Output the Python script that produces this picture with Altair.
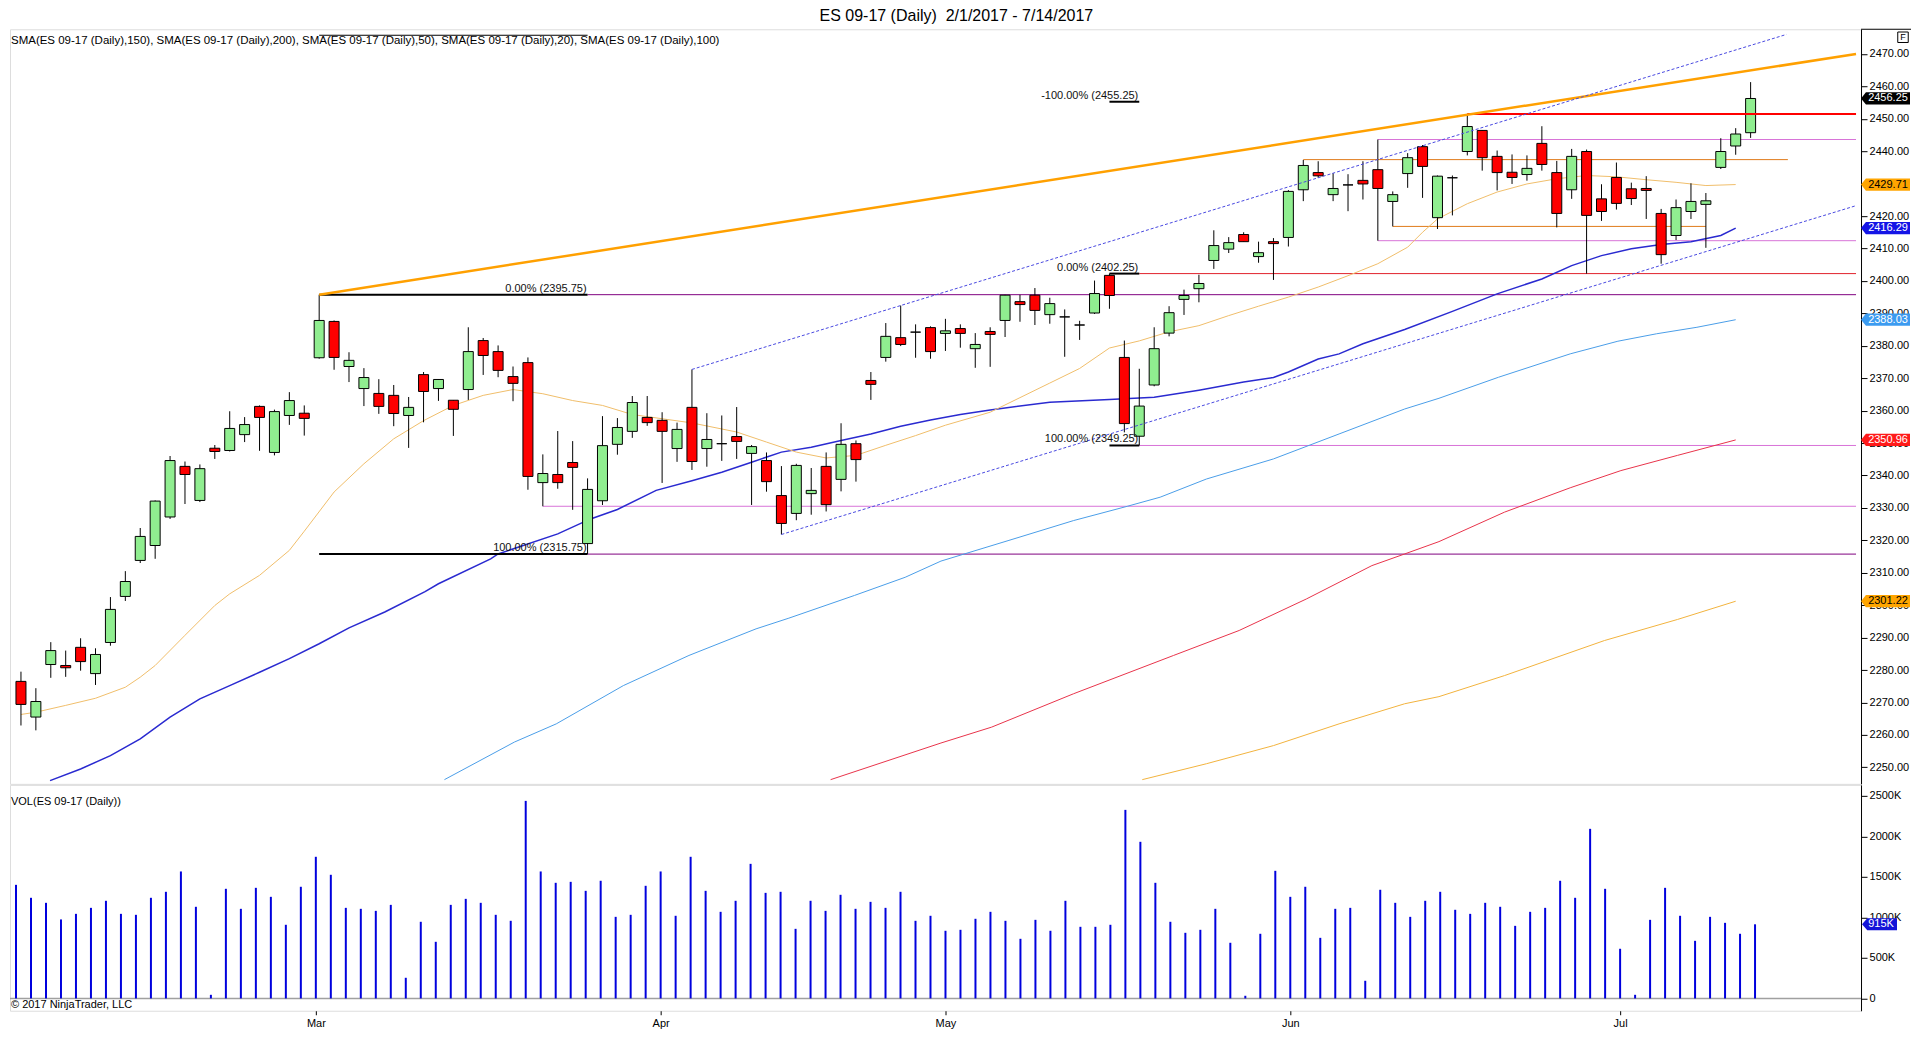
import altair as alt
import pandas as pd

FONT = "Liberation Sans"

# ---------------- data ----------------
opens = [
    2276.5, 2265.5, 2281.7, 2281.4, 2287.0, 2278.9, 2288.5, 2302.7, 2313.8, 2318.4,
    2327.2, 2342.8, 2332.3, 2348.4, 2347.7, 2352.6, 2361.3, 2347.1, 2358.5, 2359.2,
    2376.3, 2387.5, 2373.6, 2366.8, 2365.3, 2364.7, 2358.5, 2371.1, 2366.8, 2363.2,
    2366.5, 2381.6, 2378.2, 2370.5, 2374.8, 2337.8, 2340.3, 2344.0, 2319.0, 2332.2,
    2349.6, 2353.6, 2357.9, 2357.0, 2348.3, 2361.0, 2348.3, 2349.8, 2352.0, 2346.8,
    2344.6, 2333.8, 2328.3, 2334.4, 2342.8, 2338.8, 2349.8, 2369.3, 2376.4, 2382.5,
    2384.2, 2385.6, 2383.8, 2385.3, 2379.1, 2384.4, 2387.8, 2393.6, 2395.6, 2389.6,
    2388.9, 2386.4, 2390.1, 2401.7, 2376.4, 2352.1, 2367.9, 2383.9, 2394.3, 2397.6,
    2406.3, 2409.8, 2414.3, 2407.5, 2412.1, 2413.4, 2428.1, 2433.4, 2426.6, 2429.6,
    2431.0, 2434.3, 2424.5, 2433.1, 2441.4, 2419.5, 2431.8, 2439.9, 2446.4, 2438.4,
    2433.5, 2432.8, 2442.4, 2433.4, 2428.1, 2439.9, 2425.3, 2431.9, 2428.4, 2428.5,
    2420.8, 2414.0, 2421.4, 2423.6, 2435.0, 2441.6, 2445.7,
]
highs = [
    2279.5, 2274.4, 2288.6, 2286.0, 2289.8, 2286.7, 2302.5, 2310.5, 2323.8, 2332.3,
    2346.0, 2344.3, 2343.4, 2349.4, 2359.8, 2358.0, 2361.6, 2360.3, 2365.7, 2361.6,
    2395.75, 2387.8, 2378.0, 2373.1, 2369.7, 2367.9, 2364.2, 2371.9, 2369.7, 2363.2,
    2385.7, 2382.4, 2380.1, 2373.6, 2376.4, 2346.5, 2353.7, 2350.6, 2339.1, 2358.3,
    2357.7, 2364.5, 2364.5, 2359.5, 2356.3, 2372.7, 2359.2, 2358.5, 2361.1, 2349.4,
    2347.1, 2342.9, 2343.6, 2342.3, 2347.1, 2356.1, 2350.8, 2371.9, 2387.0, 2392.4,
    2386.6, 2386.0, 2388.3, 2386.6, 2383.9, 2385.7, 2395.7, 2395.7, 2397.8, 2394.8,
    2391.2, 2387.7, 2400.1, 2402.25, 2381.6, 2372.9, 2385.7, 2392.2, 2397.3, 2401.9,
    2415.6, 2413.5, 2415.0, 2412.1, 2413.2, 2428.0, 2437.3, 2436.9, 2433.2, 2432.9,
    2436.9, 2443.6, 2427.6, 2439.4, 2441.9, 2432.5, 2432.5, 2451.5, 2446.5, 2440.2,
    2439.0, 2438.7, 2447.7, 2437.0, 2440.7, 2440.5, 2429.8, 2436.5, 2430.3, 2432.3,
    2422.2, 2425.1, 2430.1, 2427.1, 2444.0, 2447.1, 2461.3,
]
lows = [
    2262.9, 2261.4, 2277.6, 2277.9, 2279.8, 2275.4, 2287.5, 2301.3, 2313.0, 2314.3,
    2326.6, 2331.2, 2331.8, 2345.1, 2347.4, 2350.3, 2347.6, 2346.2, 2355.6, 2352.3,
    2376.0, 2372.6, 2368.8, 2361.4, 2359.0, 2355.2, 2348.5, 2356.4, 2363.0, 2352.2,
    2363.3, 2371.0, 2370.3, 2362.9, 2335.6, 2330.5, 2335.9, 2329.4, 2315.75, 2330.9,
    2346.4, 2351.6, 2355.3, 2337.7, 2344.2, 2341.7, 2342.7, 2344.5, 2345.1, 2330.9,
    2335.0, 2321.8, 2326.2, 2327.9, 2328.9, 2335.1, 2338.1, 2363.3, 2375.1, 2379.9,
    2376.3, 2376.0, 2378.4, 2379.4, 2373.2, 2373.5, 2382.7, 2387.4, 2386.4, 2386.8,
    2376.6, 2381.8, 2389.8, 2391.4, 2353.3, 2349.25, 2367.5, 2382.9, 2389.5, 2393.4,
    2403.7, 2408.6, 2412.1, 2405.6, 2400.3, 2410.6, 2424.6, 2431.8, 2424.6, 2421.5,
    2425.1, 2412.4, 2416.8, 2428.7, 2425.6, 2416.0, 2420.2, 2438.7, 2434.0, 2427.9,
    2429.9, 2430.9, 2434.0, 2416.5, 2425.3, 2402.25, 2418.5, 2422.0, 2423.4, 2419.1,
    2405.3, 2412.6, 2419.1, 2410.2, 2434.5, 2438.9, 2444.1,
]
closes = [
    2269.4, 2270.3, 2286.0, 2280.7, 2282.6, 2284.8, 2298.7, 2307.3, 2321.2, 2332.1,
    2344.6, 2340.3, 2342.1, 2347.4, 2354.5, 2355.7, 2357.9, 2359.7, 2363.1, 2357.6,
    2387.8, 2376.4, 2375.5, 2370.2, 2361.3, 2359.1, 2361.0, 2365.9, 2369.6, 2360.4,
    2378.2, 2377.0, 2372.4, 2368.4, 2339.7, 2340.6, 2337.8, 2342.5, 2335.7, 2349.2,
    2354.8, 2362.5, 2356.3, 2353.6, 2354.2, 2344.3, 2351.1, 2349.8, 2350.5, 2348.9,
    2338.1, 2325.2, 2343.1, 2335.4, 2331.0, 2349.6, 2344.9, 2368.1, 2382.9, 2380.4,
    2384.2, 2378.2, 2384.6, 2383.8, 2380.4, 2383.5, 2395.6, 2392.7, 2390.9, 2393.0,
    2388.9, 2386.4, 2396.1, 2395.5, 2356.0, 2361.4, 2379.1, 2390.2, 2395.5, 2399.2,
    2410.9, 2411.8, 2412.1, 2408.7, 2411.5, 2427.6, 2435.6, 2432.4, 2428.5, 2429.6,
    2429.9, 2428.5, 2426.6, 2438.0, 2435.3, 2432.3, 2431.8, 2447.6, 2438.0, 2433.4,
    2431.9, 2434.7, 2435.9, 2420.8, 2438.4, 2420.2, 2421.4, 2423.9, 2425.4, 2427.9,
    2408.1, 2422.6, 2424.5, 2424.7, 2439.9, 2445.3, 2456.25,
]
volumes_k = [
    1402, 1242, 1180, 975, 1044, 1118, 1205, 1044, 1032, 1242,
    1316, 1567, 1131, 45, 1353, 1106, 1365, 1254, 909, 1378,
    1748, 1526, 1118, 1106, 1081, 1155, 255, 946, 699, 1155,
    1229, 1180, 1032, 958, 2438, 1567, 1427, 1439, 1328, 1452,
    1007, 1032, 1390, 1567, 1020, 1748, 1328, 1069, 1205, 1661,
    1303, 1316, 859, 1205, 1081, 1279, 1106, 1192, 1118, 1316,
    958, 1020, 835, 847, 983, 1069, 958, 736, 970, 835,
    1205, 884, 884, 909, 2327, 1933, 1427, 946, 810, 847,
    1106, 687, 33, 798, 1575, 1254, 1378, 748, 1106, 1118,
    218, 1341, 1180, 1007, 1205, 1316, 1094, 1044, 1180, 1131,
    896, 1069, 1118, 1452, 1242, 2093, 1353, 613, 45, 970,
    1365, 1020, 711, 1007, 933, 798, 915,
]

month_names = ["Mar", "Apr", "May", "Jun", "Jul"]
month_bars = [20, 43, 62, 85, 107]

# moving averages (bar index, value)
sma20_x = [0, 1, 3, 5, 7, 8, 9, 11, 13, 14, 16, 18, 19, 21, 23, 25, 27, 29, 31, 33, 35, 37, 39, 41,
           43, 45, 48, 50, 52, 54, 56, 58, 60, 62, 65, 67, 69, 71, 73, 75, 77, 79, 81, 83, 85, 87,
           89, 91, 93, 94, 95, 97, 99, 101, 103, 105, 107, 109, 111, 113, 115]
sma20_y = [2266.3, 2267.0, 2269.1, 2271.3, 2274.7, 2277.8, 2281.4, 2290.7, 2299.9, 2303.5, 2309.2,
           2316.9, 2322.8, 2334.9, 2343.6, 2351.3, 2356.9, 2361.6, 2364.7, 2366.5, 2365.2, 2363.1,
           2361.6, 2358.8, 2357.5, 2356.2, 2353.4, 2350.3, 2347.2, 2345.4, 2346.2, 2349.3, 2352.3,
           2355.5, 2359.5, 2364.0, 2368.5, 2373.0, 2379.3, 2381.5, 2384.3, 2386.2, 2389.3, 2392.2,
           2395.0, 2398.1, 2401.6, 2405.3, 2410.4, 2415.0, 2419.1, 2423.8, 2427.4, 2429.9, 2431.5,
           2432.5, 2432.1, 2431.2, 2430.4, 2429.4, 2429.71]
sma50_x = [1.95, 4, 6, 8, 10, 12, 14, 16, 18, 20, 22, 24.4, 27.1, 28, 31.5, 32, 36, 38.2, 40, 42.6,
           45, 47, 49, 51, 53, 55, 57, 59, 61, 63, 65, 69, 73, 76, 79, 82, 84, 85, 87, 88.4, 90,
           92.8, 96, 99, 102, 104, 106, 108, 110, 112, 114, 115]
sma50_y = [2245.9, 2249.5, 2253.6, 2258.8, 2265.5, 2271.1, 2275.2, 2279.3, 2283.5, 2288.1, 2293.0,
           2297.9, 2304.2, 2306.6, 2314.3, 2315.8, 2322.0, 2326.6, 2329.5, 2335.4, 2338.4, 2341.0,
           2344.1, 2347.2, 2348.7, 2350.8, 2352.8, 2355.2, 2357.1, 2358.8, 2360.2, 2362.6, 2363.4,
           2364.1, 2366.3, 2368.8, 2370.2, 2371.9, 2375.9, 2377.5, 2380.6, 2385.0, 2390.6, 2396.0,
           2400.6, 2404.7, 2407.8, 2409.9, 2411.2, 2412.1, 2414.0, 2416.29]
sma100_x = [28.4, 33.1, 35.9, 40.4, 44.8, 49.3, 51.5, 55.9, 59.3, 61.7, 66.2, 70.6, 74.2, 76.4,
            79.5, 84, 88.4, 92.8, 95.1, 99.1, 103.9, 107.1, 109.7, 112.4, 115]
sma100_y = [2246.2, 2257.8, 2263.4, 2275.2, 2284.5, 2292.7, 2296.0, 2303.0, 2308.6, 2313.6, 2319.9,
            2326.1, 2330.5, 2333.3, 2338.9, 2345.1, 2352.8, 2360.5, 2363.8, 2370.3, 2377.5, 2381.4,
            2383.7, 2385.7, 2388.03]
sma150_x = [54.3, 61.7, 65.1, 70.6, 77.3, 81.7, 86.2, 90.6, 92.8, 95.1, 99.5, 103.9, 107.3, 111.1, 115]
sma150_y = [2246.2, 2257.5, 2262.4, 2272.7, 2284.5, 2292.2, 2301.9, 2312.2, 2315.8, 2319.6, 2328.7,
            2336.2, 2341.5, 2346.2, 2350.96]
sma200_x = [75.2, 79.5, 84, 88.4, 92.8, 95.1, 99.5, 106.2, 111.1, 115]
sma200_y = [2246.2, 2251.1, 2256.7, 2263.4, 2269.6, 2271.8, 2278.3, 2289.1, 2295.6, 2301.22]

# drawing objects (anchored at bar index / price)
trend_x = [20, 123.07]
trend_y = [2395.75, 2470.0]
chan_up_x = [45, 118.4]
chan_up_y = [2372.7, 2476.0]
chan_lo_x = [51, 123.07]
chan_lo_y = [2321.8, 2423.2]

fib_thick_x1 = [20, 20, 73, 73, 73]
fib_thick_x2 = [38, 38, 75, 75, 75]
fib_thick_y = [2395.75, 2315.75, 2402.25, 2349.25, 2455.25]
fib_thin_x1 = [20]
fib_thin_x2 = [38]
fib_thin_y = [2475.75]
fib_label_x = [38, 38, 75, 75, 75]
fib_label_y = [2395.75, 2315.75, 2402.25, 2349.25, 2455.25]
fib_label_t = ["0.00% (2395.75)", "100.00% (2315.75)", "0.00% (2402.25)",
               "100.00% (2349.25)", "-100.00% (2455.25)"]

purple_x1 = [38, 38]
purple_x2 = [123.07, 123.07]
purple_y = [2395.75, 2315.75]
pink_x1 = [75, 35, 91, 91]
pink_x2 = [123.07, 123.07, 123.07, 123.07]
pink_y = [2349.25, 2330.5, 2443.6, 2412.4]
redthin_x1 = [75]
redthin_x2 = [123.07]
redthin_y = [2402.25]
redthick_x1 = [97]
redthick_x2 = [123.07]
redthick_y = [2451.5]
orange_x1 = [86, 92]
orange_x2 = [118.5, 113]
orange_y = [2437.4, 2416.8]

flag_vals = [2456.25, 2429.71, 2416.29, 2388.03, 2350.96, 2301.22]
flag_text = ["2456.25", "2429.71", "2416.29", "2388.03", "2350.96", "2301.22"]
flag_fill = ["#000000", "#FFA500", "#1414E6", "#3C9BF0", "#FF1A1A", "#FFA500"]
flag_tc = ["#FFFFFF", "#000000", "#FFFFFF", "#FFFFFF", "#FFFFFF", "#000000"]

price_ticks = list(range(2250, 2471, 10))
vol_ticks = [0, 500, 1000, 1500, 2000, 2500]

HEADER = ("SMA(ES 09-17 (Daily),150), SMA(ES 09-17 (Daily),200), SMA(ES 09-17 (Daily),50), "
          "SMA(ES 09-17 (Daily),20), SMA(ES 09-17 (Daily),100)")
TITLE = "ES 09-17 (Daily)\u00a0 2/1/2017 - 7/14/2017"

# ---------------- chart ----------------
W = 1852
PH = 755
VH = 226

n = len(opens)
bars = pd.DataFrame({"x": list(range(n)), "o": opens, "h": highs, "l": lows, "c": closes,
                     "v": volumes_k})
bars["dir"] = ["up" if c > o else ("down" if c < o else "flat") for o, c in zip(opens, closes)]

xs = alt.Scale(domain=[-0.4, 123.07], nice=False, zero=False)
ys = alt.Scale(domain=[2244.9, 2477.6], nice=False, zero=False)
vs = alt.Scale(domain=[-151.7, 2635.7], nice=False, zero=False)

price_axis = alt.Axis(orient="right", values=price_ticks, format=".2f", tickSize=6, labelPadding=2,
                      labelFontSize=11, labelFont=FONT, labelColor="black", tickColor="black",
                      domainColor="black", grid=False, title=None, labelOverlap=False,
                      labelFlush=False, labelBound=False)
vol_axis = alt.Axis(orient="right", values=vol_ticks,
                    labelExpr="datum.value == 0 ? '0' : datum.value + 'K'", tickSize=6,
                    labelPadding=2, labelFontSize=11, labelFont=FONT, labelColor="black",
                    tickColor="black", domainColor="black", grid=False, title=None,
                    labelOverlap=False, labelFlush=False, labelBound=False)
mexpr = "[" + ",".join("'%s'" % m for m in month_names) + "][indexof([" + \
        ",".join(str(b) for b in month_bars) + "], datum.value)]"
month_axis = alt.Axis(values=month_bars, labelExpr=mexpr, tickSize=4, labelPadding=3,
                      labelFontSize=11, labelFont=FONT, labelColor="black", tickColor="black",
                      domain=False, grid=False, title=None, labelFlush=False)


def PX(f):
    return alt.X(f, type="quantitative", scale=xs, axis=None, title=None)


def PY(f):
    return alt.Y(f, type="quantitative", scale=ys, axis=price_axis, title=None)


def VX(f):
    return alt.X(f, type="quantitative", scale=xs, axis=month_axis, title=None)


def VY(f):
    return alt.Y(f, type="quantitative", scale=vs, axis=vol_axis, title=None)


def hseg(x1, x2, y, color, width, dash=None):
    df = pd.DataFrame({"x1": x1, "x2": x2, "y": y})
    kw = dict(color=color, strokeWidth=width)
    if dash:
        kw["strokeDash"] = dash
    return alt.Chart(df).mark_rule(**kw).encode(x=PX("x1"), x2=alt.X2("x2"), y=PY("y"))


def pline(xv, yv, color, width, dash=None):
    df = pd.DataFrame({"x": xv, "y": yv})
    kw = dict(color=color, strokeWidth=width, clip=True)
    if dash:
        kw["strokeDash"] = dash
    return alt.Chart(df).mark_line(**kw).encode(x=PX("x"), y=PY("y"))


layers = [
    hseg(purple_x1, purple_x2, purple_y, "#800080", 1),
    hseg(pink_x1, pink_x2, pink_y, "#D873D8", 1),
    hseg(redthin_x1, redthin_x2, redthin_y, "#E0202A", 1),
    hseg(orange_x1, orange_x2, orange_y, "#E07A1A", 1),
    pline(sma200_x, sma200_y, "#F2B33D", 1),
    pline(sma150_x, sma150_y, "#E8334A", 1),
    pline(sma100_x, sma100_y, "#4A9EE8", 1),
    pline(sma50_x, sma50_y, "#2A2AD0", 1.5),
    pline(sma20_x, sma20_y, "#F0BE6A", 1),
    alt.Chart(bars).mark_rule(color="black", strokeWidth=1).encode(
        x=PX("x"), y=PY("l"), y2=alt.Y2("h")),
    alt.Chart(bars).mark_bar(size=10, stroke="black", strokeWidth=1).encode(
        x=PX("x"), y=PY("o"), y2=alt.Y2("c"),
        color=alt.Color("dir:N", scale=alt.Scale(domain=["up", "down", "flat"],
                                                 range=["#90EE90", "#FF0000", "#000000"]),
                        legend=None)),
    hseg(fib_thick_x1, fib_thick_x2, fib_thick_y, "#000000", 2),
    hseg(fib_thin_x1, fib_thin_x2, fib_thin_y, "#000000", 1),
    hseg(redthick_x1, redthick_x2, redthick_y, "#FF0000", 2),
    pline(trend_x, trend_y, "#FFA000", 2.5),
    pline(chan_up_x, chan_up_y, "#4848E0", 1, [3, 2]),
    pline(chan_lo_x, chan_lo_y, "#4848E0", 1, [3, 2]),
    alt.Chart(pd.DataFrame({"x": fib_label_x, "y": fib_label_y, "t": fib_label_t})).mark_text(
        align="right", baseline="bottom", dx=-1, dy=-1, fontSize=11, font=FONT,
        color="#111111").encode(x=PX("x"), y=PY("y"), text="t:N"),
    alt.Chart(pd.DataFrame({"y": flag_vals, "f": flag_fill})).mark_point(
        shape="M -1 0 L -0.8 -0.25 L 1 -0.25 L 1 0.25 L -0.8 0.25 Z", size=2401, filled=True,
        opacity=1, strokeWidth=0).encode(
        x=alt.value(W + 24.5), y=PY("y"), fill=alt.Fill("f:N", scale=None)),
    alt.Chart(pd.DataFrame({"y": flag_vals, "t": flag_text, "tc": flag_tc})).mark_text(
        fontSize=11, font=FONT, align="center", baseline="middle").encode(
        x=alt.value(W + 27), y=PY("y"), text="t:N", color=alt.Color("tc:N", scale=None)),
    alt.Chart(pd.DataFrame({"t": [HEADER]})).mark_text(
        align="left", baseline="middle", fontSize=11.5, font=FONT, color="black").encode(
        x=alt.value(1), y=alt.value(12), text="t:N"),
    alt.Chart(pd.DataFrame({"t": ["F"]})).mark_text(
        align="center", baseline="middle", fontSize=9, font=FONT, color="black").encode(
        x=alt.value(W + 42), y=alt.value(8), text="t:N"),
    alt.Chart(pd.DataFrame({"t": ["F"]})).mark_point(
        shape="square", size=110, filled=False, stroke="black", strokeWidth=1, opacity=1).encode(
        x=alt.value(W + 42), y=alt.value(8)),
    alt.Chart(pd.DataFrame({"t": ["top"]})).mark_rule(color="black", strokeWidth=1).encode(
        x=alt.value(W), x2=alt.value(W + 50), y=alt.value(0)),
]
price = alt.layer(*layers).properties(width=W, height=PH)

vol_layers = [
    alt.Chart(pd.DataFrame({"y": [0]})).mark_rule(color="#A0A0A0", strokeWidth=1.5).encode(
        y=VY("y"), x=alt.value(0), x2=alt.value(W)),
    alt.Chart(bars).transform_calculate(zero="0").mark_rule(
        color="#0000DD", strokeWidth=2).encode(x=VX("x"), y=VY("zero"), y2=alt.Y2("v")),
    alt.Chart(pd.DataFrame({"y": [volumes_k[-1]]})).mark_point(
        shape="M -1 0 L -0.7 -0.34 L 1 -0.34 L 1 0.34 L -0.7 0.34 Z", size=1225, filled=True,
        opacity=1, strokeWidth=0, color="#1414D8").encode(x=alt.value(W + 18.5), y=VY("y")),
    alt.Chart(pd.DataFrame({"y": [volumes_k[-1]], "t": ["%dK" % volumes_k[-1]]})).mark_text(
        fontSize=11, font=FONT, color="white", align="center", baseline="middle").encode(
        x=alt.value(W + 20), y=VY("y"), text="t:N"),
    alt.Chart(pd.DataFrame({"t": ["VOL(ES 09-17 (Daily))"]})).mark_text(
        align="left", baseline="middle", fontSize=11, font=FONT, color="black").encode(
        x=alt.value(1), y=alt.value(17), text="t:N"),
    alt.Chart(pd.DataFrame({"t": ["\u00a9 2017 NinjaTrader, LLC"]})).mark_text(
        align="left", baseline="middle", fontSize=11, font=FONT, color="black").encode(
        x=alt.value(1), y=alt.value(220), text="t:N"),
]
vol = alt.layer(*vol_layers).properties(width=W, height=VH)

chart = alt.vconcat(price, vol, spacing=1, bounds="flush").resolve_scale(
    y="independent"
).properties(
    title=alt.TitleParams(TITLE, fontSize=16, fontWeight="normal", font=FONT, color="black",
                          anchor="middle", offset=4, dx=-4),
    padding={"left": 0, "top": 0, "right": 0, "bottom": 0},
).configure_view(stroke="black", strokeWidth=1).configure(background="white")

chart.save("out.html", embed_options={"renderer": "svg", "actions": False})
